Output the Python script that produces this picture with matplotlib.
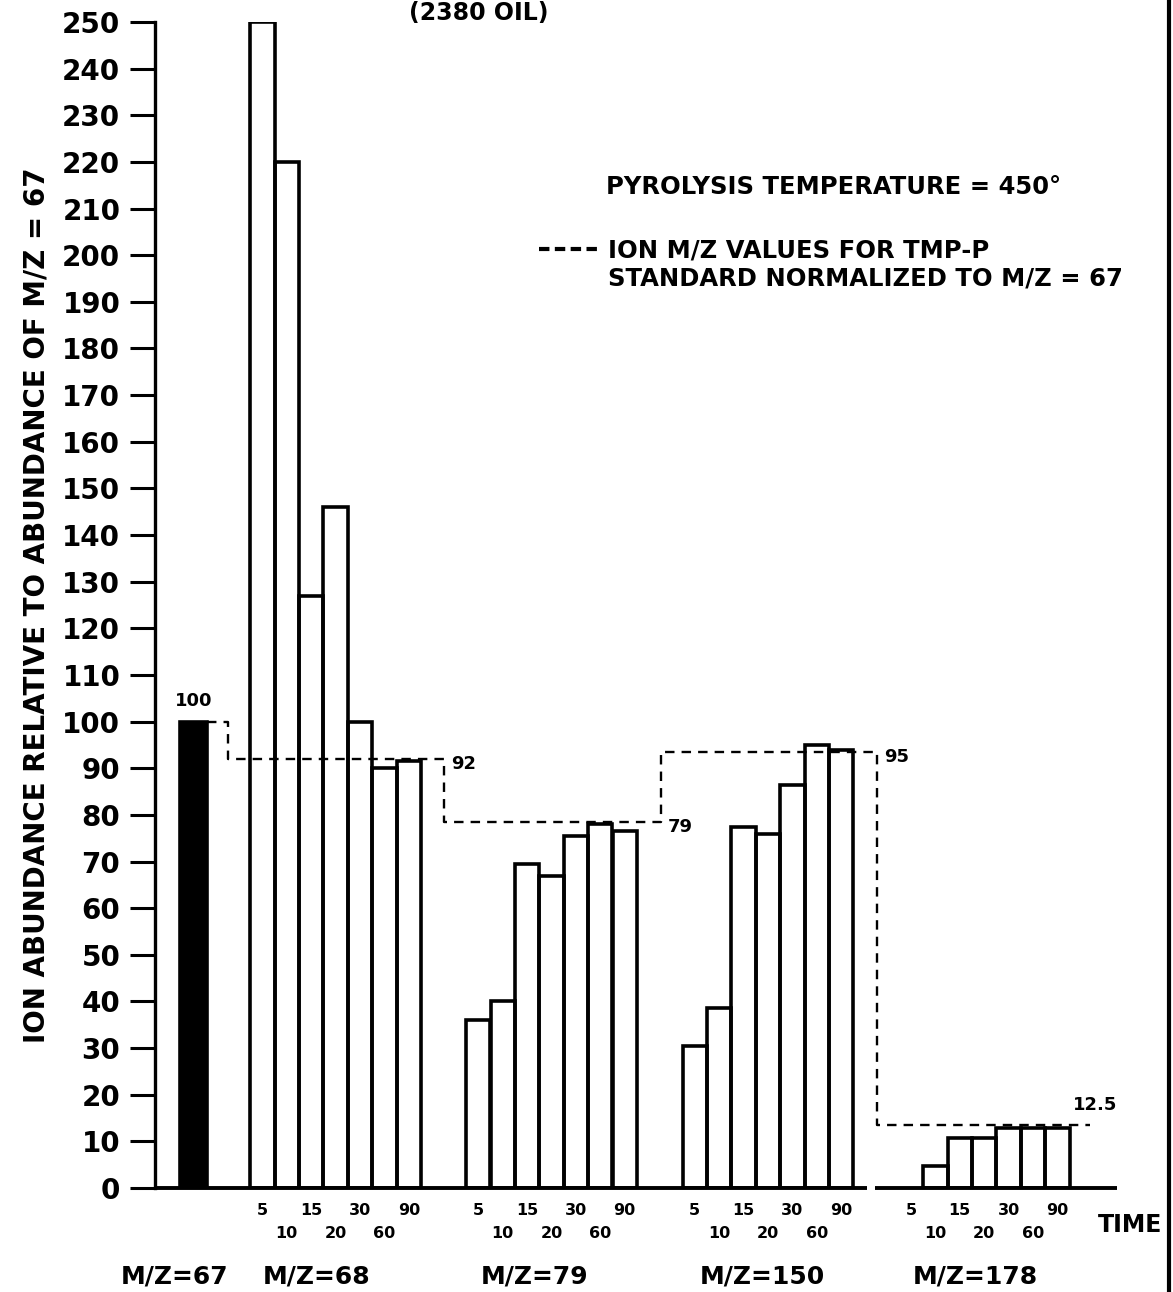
import matplotlib
matplotlib.use("Agg")
import matplotlib.pyplot as plt
import numpy as np
from matplotlib.lines import Line2D

# %% data
times = ["5", "10", "15", "20", "30", "60", "90"]
group_names = ["M/Z=68", "M/Z=79", "M/Z=150", "M/Z=178"]
mz67 = 100
mz68 = [250, 220, 127, 146, 100, 90, 91.5]
mz79 = [36, 40, 69.5, 67, 75.5, 78, 76.5]
mz150 = [30.5, 38.5, 77.5, 76, 86.5, 95, 94]
mz178 = [0, 4.7, 10.7, 10.7, 12.8, 12.8, 12.8]
tmp_levels = [100, 92, 78.5, 93.5, 13.5]       # dashed TMP-P standard
tmp_labels = ["100", "92", "79", "95", "12.5"]

# %% layout (units = one bar width)
W, H, DPI = 1173, 1292, 100
px = 24.4                     # bar width in pixels
x0_px, base_px = 155, 1188    # y-axis spine / baseline
starts = [3.9, 12.75, 21.62, 30.48]
black_x, black_w = 1.58, 1.1
label_x = [0.82, 6.64, 15.57, 24.9, 33.6]
xmax = (1117 - x0_px) / px

plt.rcParams["font.family"] = "DejaVu Sans"
plt.rcParams["font.weight"] = "bold"

fig = plt.figure(figsize=(W / DPI, H / DPI), dpi=DPI)
ax = fig.add_axes([x0_px / W, 1 - base_px / H, (1117 - x0_px) / W, (base_px - 22) / H])
ax.set_xlim(0, xmax)
ax.set_ylim(0, 250)

lw = 2.6
ax.bar(black_x, mz67, width=black_w, color="black", edgecolor="black", linewidth=lw)
for s, vals in zip(starts, [mz68, mz79, mz150, mz178]):
    xs = s + np.arange(len(vals)) + 0.5
    vals = np.asarray(vals)
    keep = vals > 0
    ax.bar(xs[keep], vals[keep], width=1.0, facecolor="none", edgecolor="black",
           linewidth=lw, zorder=2)
    for i, (x, t) in enumerate(zip(xs, times)):
        y = -0.0197 if i % 2 == 0 else -0.0386
        ax.text(x, y, t, transform=ax.get_xaxis_transform(), ha="center", va="center",
                fontsize=11.5, fontweight="bold")

# dashed TMP-P standard line
gap = 0.9
dx = [black_x + black_w / 2] + [s - gap for s in starts] + [starts[-1] + 7 + 0.85]
dy = tmp_levels + [tmp_levels[-1]]
ax.plot(dx, dy, drawstyle="steps-post", color="black", lw=1.7,
        dashes=(4, 3), zorder=3)
ax.text(black_x, tmp_levels[0] + 2.5, tmp_labels[0], ha="center", va="bottom", fontsize=13)
for i in range(1, 4):
    ax.text(dx[i + 1] + 0.3, tmp_levels[i] - 1, tmp_labels[i], ha="left", va="center", fontsize=13)
ax.text(dx[-1] - 0.7, tmp_levels[-1] + 4.2, tmp_labels[-1], ha="left", va="center", fontsize=13)

# axes styling
for sp in ["top", "right", "bottom"]:
    ax.spines[sp].set_visible(False)
ax.spines["left"].set_linewidth(2.4)
ax.set_xticks([])
ax.set_yticks(np.arange(0, 251, 10))
ax.tick_params(axis="y", length=18, width=2.2, pad=7, labelsize=20)
for lbl in ax.get_yticklabels():
    lbl.set_fontweight("bold")
brk = (29.2, 29.5)
ax.plot([0, brk[0]], [0, 0], color="black", lw=2.8, clip_on=False, solid_capstyle="butt")
ax.plot([brk[1], xmax], [0, 0], color="black", lw=2.8, clip_on=False, solid_capstyle="butt")

# category labels under the groups
for x, name in zip(label_x, ["M/Z=67"] + group_names):
    ax.text(x, -0.0755, name, transform=ax.get_xaxis_transform(), ha="center",
            va="center", fontsize=18)
ax.text((1098 - x0_px) / px, -0.032, "TIME", transform=ax.get_xaxis_transform(),
        ha="left", va="center", fontsize=17, clip_on=False)

fig.text(37 / W, 1 - 605 / H, "ION ABUNDANCE RELATIVE TO ABUNDANCE OF M/Z = 67",
         rotation=90, ha="center", va="center", fontsize=20)
fig.text(479 / W, 1 - 1 / H, "(2380 OIL)", ha="center", va="top", fontsize=17)

# legend block
fig.text(606 / W, 1 - 187 / H, "PYROLYSIS TEMPERATURE = 450°", ha="left", va="center", fontsize=17.5)
fig.add_artist(Line2D([539 / W, 601 / W], [1 - 249 / H] * 2, color="black", lw=3,
                      dashes=(2.5, 1.3), transform=fig.transFigure))
fig.text(608 / W, 1 - 250 / H, "ION M/Z VALUES FOR TMP-P", ha="left", va="center", fontsize=17.5)
fig.text(608 / W, 1 - 278 / H, "STANDARD NORMALIZED TO M/Z = 67", ha="left", va="center", fontsize=17.5)

# scanned page edge on the right
fig.add_artist(Line2D([1169 / W] * 2, [0, 1], color="black", lw=3, transform=fig.transFigure))

fig.savefig("out.png", dpi=DPI, facecolor="white")
